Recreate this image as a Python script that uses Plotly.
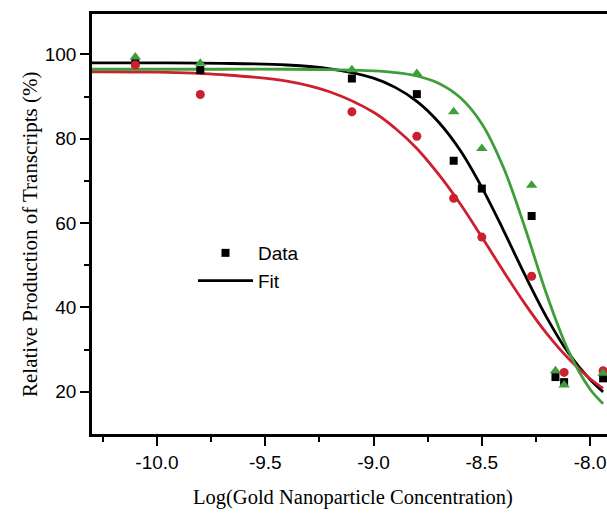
import plotly.graph_objects as go

x_black = [-10.1, -9.8, -9.1, -8.8, -8.63, -8.5, -8.27, -8.16, -8.12, -7.94]
y_black = [98.0, 96.3, 94.3, 90.6, 74.8, 68.2, 61.7, 23.5, 22.3, 23.2]

x_red = [-10.1, -9.8, -9.1, -8.8, -8.63, -8.5, -8.27, -8.12, -7.94]
y_red = [97.5, 90.5, 86.4, 80.6, 65.9, 56.7, 47.4, 24.6, 25.0]

x_green = [-10.1, -9.8, -9.1, -8.8, -8.63, -8.5, -8.27, -8.16, -8.12, -7.94]
y_green = [99.4, 97.9, 96.4, 95.5, 86.4, 77.7, 69.0, 25.0, 21.6, 24.4]

# ---- fitted curves ----
x_fit = [-10.3, -10.0, -9.7, -9.4, -9.2, -9.0, -8.9, -8.8, -8.7, -8.6,
         -8.5, -8.4, -8.3, -8.2, -8.1, -8.0, -7.94]
fit_black = [98.0, 98.0, 97.9, 97.5, 96.6, 94.4, 92.2, 88.9, 84.0, 77.3,
             68.5, 58.3, 47.6, 37.6, 29.2, 22.9, 20.0]
fit_red = [95.9, 95.8, 95.2, 93.7, 91.1, 86.3, 82.5, 77.7, 71.6, 64.6,
           56.7, 48.6, 40.8, 33.8, 27.9, 23.1, 20.8]
fit_green = [96.5, 96.5, 96.5, 96.5, 96.4, 96.1, 95.7, 94.9, 93.2, 89.8,
             83.6, 73.2, 58.8, 43.0, 29.7, 20.6, 17.2]

x_ticks = [-10.0, -9.5, -9.0, -8.5, -8.0]
x_ticklabels = ["-10.0", "-9.5", "-9.0", "-8.5", "-8.0"]
y_ticks = [20, 40, 60, 80, 100]

BLACK = "#000000"
RED = "#cc2030"
GREEN = "#3f9e3a"

fig = go.Figure()

series = [
    (x_black, y_black, fit_black, BLACK, "square", 8),
    (x_red, y_red, fit_red, RED, "circle", 9),
    (x_green, y_green, fit_green, GREEN, "triangle-up", 10),
]
for i, (xs, ys, fy, col, sym, sz) in enumerate(series):
    fig.add_trace(go.Scatter(
        x=x_fit, y=fy, mode="lines", line=dict(color=col, width=2.8, shape="spline"),
        name="Fit", showlegend=(i == 0), legendrank=2))
for i, (xs, ys, fy, col, sym, sz) in enumerate(series):
    fig.add_trace(go.Scatter(
        x=xs, y=ys, mode="markers", marker=dict(color=col, symbol=sym, size=sz, line=dict(width=0)),
        name="Data", showlegend=(i == 0), legendrank=1))

sans = "Liberation Sans, Arial, sans-serif"
serif = "Liberation Serif, Times New Roman, serif"

W, H = 607, 515
L, T, B = 92, 14, 81
PW, PH = W - L, H - T - B

def px(xw):  # window x -> paper x
    return (xw - L) / PW

def py(yw):  # window y -> paper y
    return (H - B - yw) / PH

fig.update_layout(
    width=W, height=H,
    margin=dict(l=L, r=0, t=T, b=B, pad=0),
    paper_bgcolor="white", plot_bgcolor="white",
    font=dict(family=sans, size=19, color="black"),
    showlegend=True,
    legend=dict(x=px(193), y=py(234), xanchor="left", yanchor="top",
                bgcolor="rgba(0,0,0,0)", font=dict(family=sans, size=19),
                itemwidth=55, tracegroupgap=0),
    xaxis=dict(range=[-10.3, -7.922], showgrid=False, zeroline=False,
               showline=True, linecolor="black", linewidth=2.6, mirror=True,
               ticks="outside", ticklen=9, tickwidth=2.4, tickcolor="black",
               tickvals=x_ticks, ticktext=x_ticklabels,
               minor=dict(tickvals=[-10.25, -9.75, -9.25, -8.75, -8.25], ticks="outside",
                          ticklen=5, tickwidth=2.4, tickcolor="black")),
    yaxis=dict(range=[10, 109.6], showgrid=False, zeroline=False,
               showline=True, linecolor="black", linewidth=2.6, mirror=False,
               ticks="outside", ticklen=9, tickwidth=2.4, tickcolor="black",
               tickvals=y_ticks,
               minor=dict(tickvals=[30, 50, 70, 90], ticks="outside",
                          ticklen=5, tickwidth=2.4, tickcolor="black")),
    annotations=[
        dict(text="Relative Production of Transcripts (%)", xref="paper", yref="paper",
             x=px(30), y=py(235), xanchor="center", yanchor="middle",
             textangle=-90, showarrow=False, font=dict(family=serif, size=21, color="black")),
        dict(text="Log(Gold Nanoparticle Concentration)", xref="paper", yref="paper",
             x=px(353), y=py(498), xanchor="center", yanchor="middle",
             showarrow=False, font=dict(family=serif, size=20.5, color="black")),
    ],
)

fig.write_html(
    "out.html",
    config={"displayModeBar": False},
    post_script="document.body.style.margin='0';document.body.style.overflow='hidden';",
)
